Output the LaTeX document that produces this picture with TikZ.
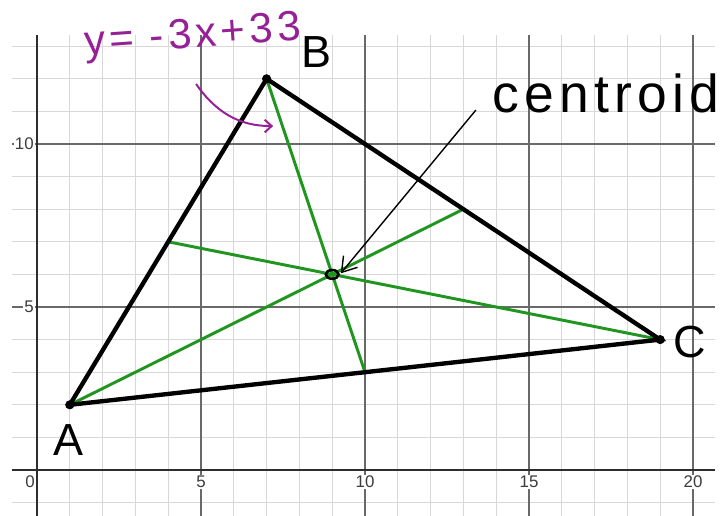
\documentclass[tikz,border=0pt]{standalone}
\usepackage{fontspec}
\setmainfont{Liberation Sans}
\newfontfamily\handfont[LetterSpace=10]{Liberation Sans}
\usetikzlibrary{arrows.meta, positioning, calc, shapes.geometric}
\definecolor{colMinor}{RGB}{216,216,216}
\definecolor{colMajor}{RGB}{105,105,105}
\definecolor{colAxis}{RGB}{45,45,45}
\definecolor{colMedian}{RGB}{32,150,32}
\definecolor{colNote}{RGB}{150,32,150}
\definecolor{colTick}{RGB}{60,60,60}
\tikzset{
  gridMinor/.style={draw=colMinor, line width=0.7pt},
  gridMajor/.style={draw=colMajor, line width=0.8pt},
  gridAxis/.style={draw=colAxis, line width=1pt},
  tickLabel/.style={font=\fontsize{12}{12}\selectfont, text=colTick, fill=white, inner sep=1pt},
  sideLine/.style={draw=black, line width=3.1pt, line cap=round},
  medianLine/.style={draw=colMedian, line width=2.1pt},
  vertexDot/.style={fill=black},
  ptLabel/.style={font=\fontsize{32}{32}\selectfont, inner sep=0pt},
  centroidMark/.style={ellipse, draw=black, line width=1.8pt, minimum width=0.32cm, minimum height=0.22cm, inner sep=0pt},
  noteArrow/.style={-{Straight Barb[length=5pt, width=9pt]}, draw=colNote, line width=1.4pt},
  pointerArrow/.style={-{Straight Barb[length=10pt, width=13pt]}, draw=black, line width=1pt}
}

\begin{document}
\begin{tikzpicture}[x=0.82cm, y=0.815cm]
  \useasboundingbox (-1.128,-1.411) rectangle (21.006,14.417);

  % grid
  \foreach \x in {1,...,20} \draw[gridMinor] (\x,-1.42) -- (\x,13.35);
  \foreach \y in {-1,...,13} \draw[gridMinor] (-0.76,\y) -- (20.67,\y);
  \foreach \x in {5,10,15,20} \draw[gridMajor] (\x,-1.42) -- (\x,13.35);
  \foreach \y in {5,10} \draw[gridMajor] (-0.76,\y) -- (20.67,\y);
  \draw[gridAxis] (0,-1.42) -- (0,13.35);
  \draw[gridAxis] (-0.76,0) -- (20.67,0);

  % tick labels
  \node[tickLabel] (t0) at (-0.21,-0.37) {0};
  \foreach \x in {5,10,15,20} \node[tickLabel] (tx\x) at (\x,-0.37) {\x};
  \node[tickLabel, anchor=east] (ty10) at (-0.05,10) {10};
  \node[tickLabel, anchor=east] (ty5) at (-0.05,5) {5};

  % triangle and medians
  \coordinate (A) at (1,2);
  \coordinate (B) at (7,12);
  \coordinate (C) at (19,4);
  \coordinate (mAB) at ($(A)!0.5!(B)$);
  \coordinate (mBC) at ($(B)!0.5!(C)$);
  \coordinate (mAC) at ($(A)!0.5!(C)$);

  \draw[medianLine] (A) -- (mBC);
  \draw[medianLine] (B) -- (mAC);
  \draw[medianLine] (C) -- (mAB);
  \draw[sideLine] (A) -- (B) -- (C) -- cycle;

  \node[centroidMark] (G) at ($(A)!2/3!(mBC)$) {};

  \foreach \p in {A,B,C} \fill[vertexDot] (\p) circle (0.14);

  \node[ptLabel] (labA) at (0.95,0.92) {A};
  \node[ptLabel] (labB) at (8.51,12.82) {B};
  \node[ptLabel] (labC) at (19.91,3.93) {C};

  % handwritten notes
  \node[text=colNote, font=\handfont\fontsize{30}{30}\selectfont, anchor=base west, rotate=4, inner sep=0pt] (eqNote) at (1.46,12.72) {y= -3x+33};
  \coordinate (eqTail) at (4.85,11.84);
  \coordinate (eqHead) at (7.20,10.55);
  \draw[noteArrow] (eqTail) to[out=-55, in=180] (eqHead);

  \node[text=black, font=\handfont\fontsize{38}{38}\selectfont, anchor=base west, inner sep=0pt] (cNote) at (13.87,10.98) {centroid};
  \coordinate (cTail) at (13.38,11.04);
  \draw[pointerArrow, shorten >=1pt] (cTail) -- (G.east);

\end{tikzpicture}
\end{document}
